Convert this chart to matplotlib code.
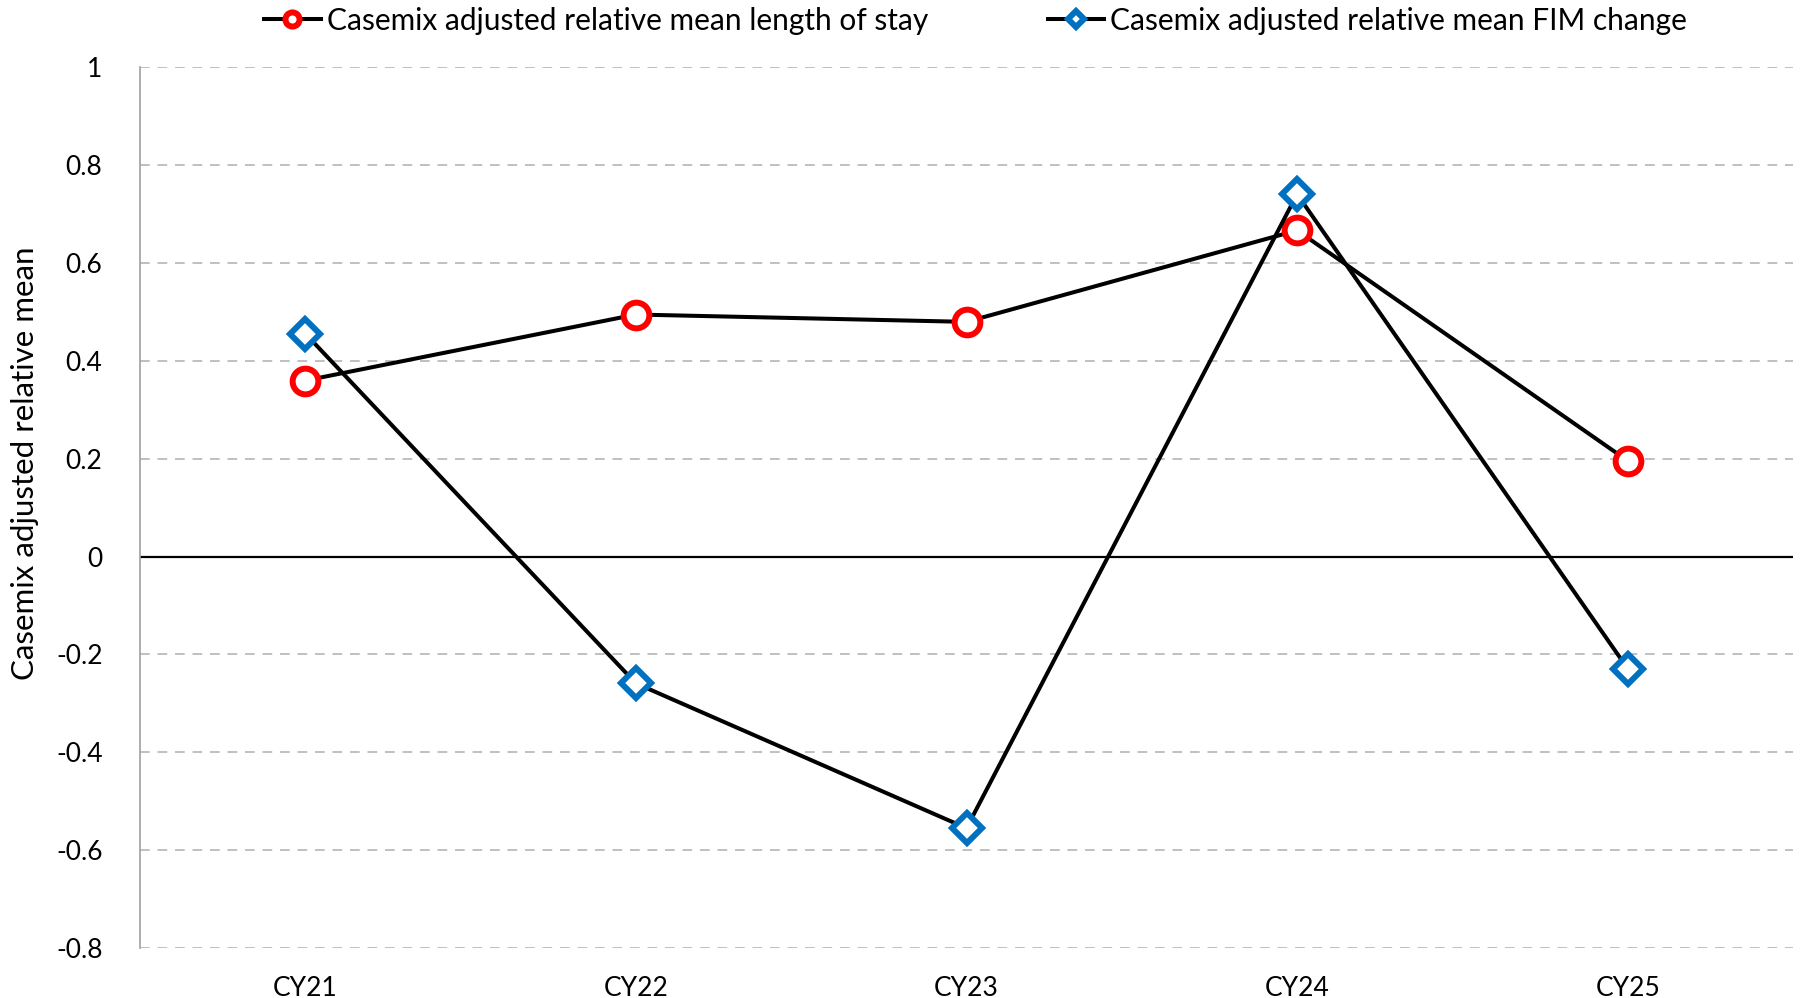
import matplotlib
matplotlib.use("Agg")
import matplotlib.pyplot as plt

categories = ["CY21", "CY22", "CY23", "CY24", "CY25"]
los_values = [0.360, 0.495, 0.480, 0.667, 0.196]
fim_values = [0.456, -0.259, -0.555, 0.741, -0.229]
yticks = [-0.8, -0.6, -0.4, -0.2, 0, 0.2, 0.4, 0.6, 0.8, 1]
ytick_labels = ["-0.8", "-0.6", "-0.4", "-0.2", "0", "0.2", "0.4", "0.6", "0.8", "1"]

plt.rcParams['font.family'] = ['Lato', 'DejaVu Sans']

fig = plt.figure(figsize=(18, 9.98), dpi=100)
ax = fig.add_axes([140/1800, 1 - 948/998, (1793-140)/1800, (948-67.5)/998])

x = list(range(len(categories)))
ax.plot(x, los_values, color='black', lw=2.9, marker='o', markersize=18.5,
        markerfacecolor='white', markeredgecolor='#FF0000', markeredgewidth=4.3,
        label='Casemix adjusted relative mean length of stay', zorder=3)
ax.plot(x, fim_values, color='black', lw=2.9, marker='D', markersize=15,
        markerfacecolor='white', markeredgecolor='#0070C0', markeredgewidth=4.3,
        label='Casemix adjusted relative mean FIM change', zorder=4)

ax.set_xlim(-0.5, 4.5)
ax.set_ylim(-0.8, 1.0)
ax.set_yticks(yticks)
ax.set_yticklabels(ytick_labels)
ax.set_xticks(x)
ax.set_xticklabels(categories)
ax.tick_params(axis='both', length=0, labelsize=19)
ax.tick_params(axis='y', pad=27)
ax.tick_params(axis='x', pad=20)

for y in yticks:
    if y != 0:
        ax.axhline(y, color='#C0C0C0', lw=1.4, ls=(0, (5, 4)), zorder=1)
ax.axhline(0, color='black', lw=1.6, zorder=2)

for s in ['top', 'right', 'bottom']:
    ax.spines[s].set_visible(False)
ax.spines['left'].set_color('#A0A0A0')
ax.spines['left'].set_linewidth(1.2)

ax.set_ylabel('Casemix adjusted relative mean', fontsize=22.5, labelpad=12)
ax.yaxis.set_label_coords(-0.061, 0.551)

fig.legend(loc='upper center', bbox_to_anchor=(0.542, 1.020), ncol=2, frameon=False,
           fontsize=21.5, handlelength=1.9, columnspacing=4.0, handletextpad=0.2,
           markerscale=0.55)

fig.savefig('out.png', dpi=100)
